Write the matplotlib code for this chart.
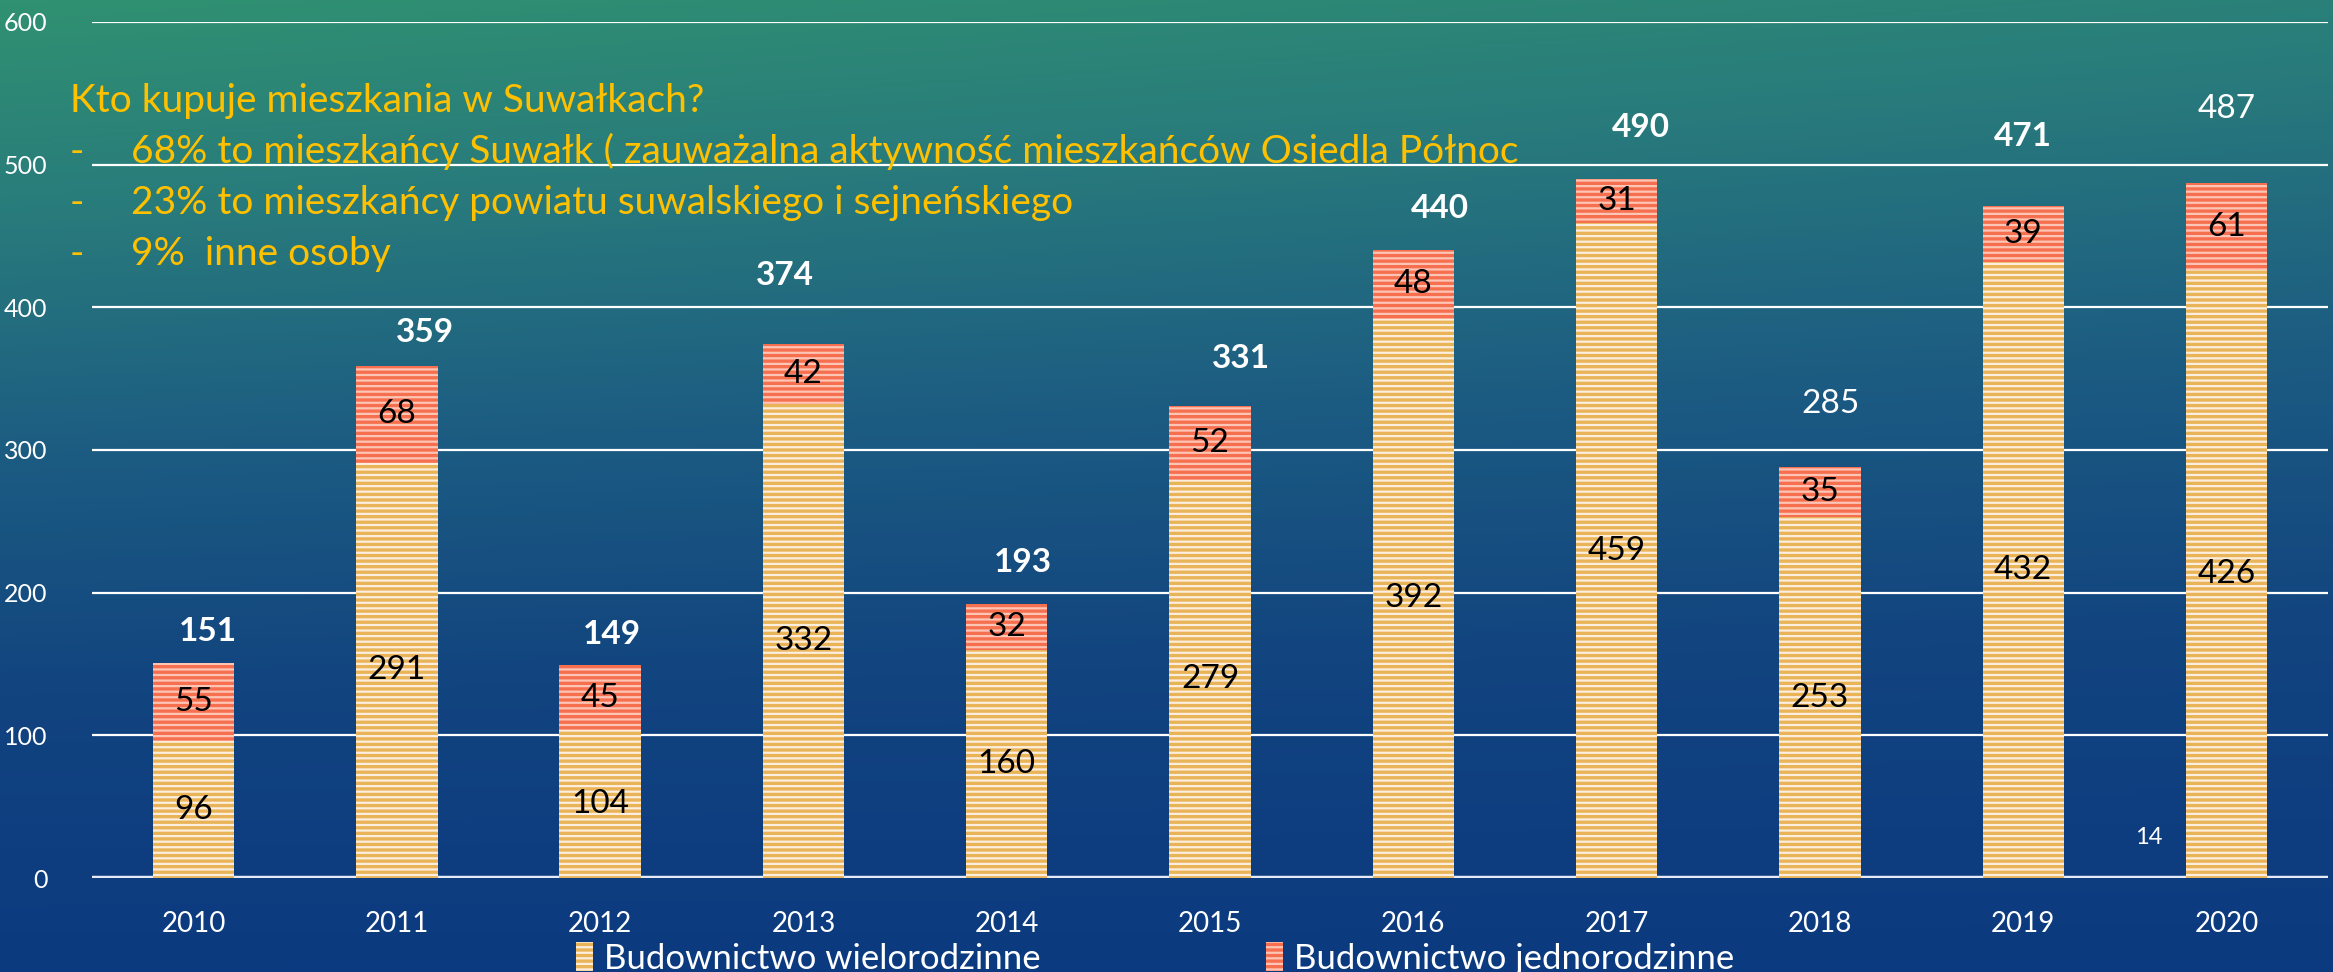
import numpy as np
import matplotlib.pyplot as plt
from matplotlib.colors import LinearSegmentedColormap

plt.rcParams['font.family'] = ['Lato', 'DejaVu Sans']
plt.rcParams['hatch.linewidth'] = 1.6

years = ['2010', '2011', '2012', '2013', '2014', '2015', '2016', '2017', '2018', '2019', '2020']
wielorodzinne = [96, 291, 104, 332, 160, 279, 392, 459, 253, 432, 426]
jednorodzinne = [55, 68, 45, 42, 32, 52, 48, 31, 35, 39, 61]
totals = [151, 359, 149, 374, 193, 331, 440, 490, 285, 471, 487]
total_bold = [True, True, True, True, True, True, True, True, False, True, False]

# where the total labels sit (x shift in categories, y in data units)
total_dx = [0.07, 0.14, 0.06, -0.09, 0.08, 0.15, 0.13, 0.12, 0.05, 0.0, 0.0]
total_y = [173, 382, 171, 422, 221, 364, 469, 526, 332, 520, 539]

note_title = 'Kto kupuje mieszkania w Suwałkach?'
note_lines = ['68% to mieszkańcy Suwałk ( zauważalna aktywność mieszkańców Osiedla Północ',
              '23% to mieszkańcy powiatu suwalskiego i sejneńskiego',
              '9%  inne osoby']

fig = plt.figure(figsize=(23.33, 9.72), dpi=100)

# background gradient (green-teal top to dark blue bottom)
bg = fig.add_axes([0, 0, 1, 1])
cmap = LinearSegmentedColormap.from_list('bg', ['#0c3a80', '#12447f', '#1c5c82', '#287a7c', '#309171'])
yy = np.linspace(0, 1, 300)[:, None]
xx = np.linspace(0, 1, 600)[None, :]
grad = yy ** 1.1 - 0.18 * xx * yy
bg.imshow(grad, aspect='auto', cmap=cmap, origin='lower', extent=[0, 1, 0, 1], vmin=0, vmax=1)
bg.axis('off')

ax = fig.add_axes([0.0394, 0.0967, 0.9585, 0.8807])
ax.patch.set_alpha(0)
x = np.arange(len(years))

b1 = ax.bar(x, wielorodzinne, width=0.4, color='#e9b458', edgecolor='#fbeede',
            linewidth=0, hatch='---', label='Budownictwo wielorodzinne', zorder=3)
b2 = ax.bar(x, jednorodzinne, width=0.4, bottom=wielorodzinne, color='#f6704f',
            edgecolor='#fdc5b6', linewidth=0, hatch='---', label='Budownictwo jednorodzinne', zorder=3)

ax.bar_label(b1, label_type='center', fontsize=24, color='black', zorder=4)
ax.bar_label(b2, label_type='center', fontsize=24, color='black', zorder=4)

for i in range(len(years)):
    ax.text(x[i] + total_dx[i], total_y[i], str(totals[i]), ha='center', va='center',
            fontsize=24, color='white', fontweight='bold' if total_bold[i] else 'normal')

ax.set_xlim(-0.5, len(years) - 0.5)
ax.set_ylim(0, 600)
ax.set_yticks(range(0, 601, 100))
ax.set_xticks(x)
ax.set_xticklabels(years)
ax.yaxis.grid(True, color='white', linewidth=1.6, zorder=1)
ax.set_axisbelow(True)
ax.axhline(0, color='#e6ecf5', linewidth=3.2, zorder=2)
for s in ax.spines.values():
    s.set_visible(False)
ax.tick_params(axis='y', length=0, pad=32, labelsize=18, labelcolor='white')
ax.tick_params(axis='x', length=0, pad=24, labelsize=20, labelcolor='white')

# note in the upper left
fig.text(0.030, 0.896, note_title, fontsize=28, color='#ffc000', va='center')
for k, line in enumerate(note_lines):
    yk = 0.844 - k * 0.0525
    fig.text(0.030, yk, '-', fontsize=28, color='#ffc000', va='center')
    fig.text(0.0562, yk, line, fontsize=28, color='#ffc000', va='center')

fig.text(0.921, 0.138, '14', fontsize=17, color='white', ha='center', va='center')

fig.legend(handles=[b1, b2], loc='center', bbox_to_anchor=(0.495, 0.014), ncol=2,
           frameon=False, fontsize=25, labelcolor='white', handlelength=0.5,
           handleheight=0.9, handletextpad=0.3, columnspacing=6.5)

fig.savefig('out.png', dpi=100)
